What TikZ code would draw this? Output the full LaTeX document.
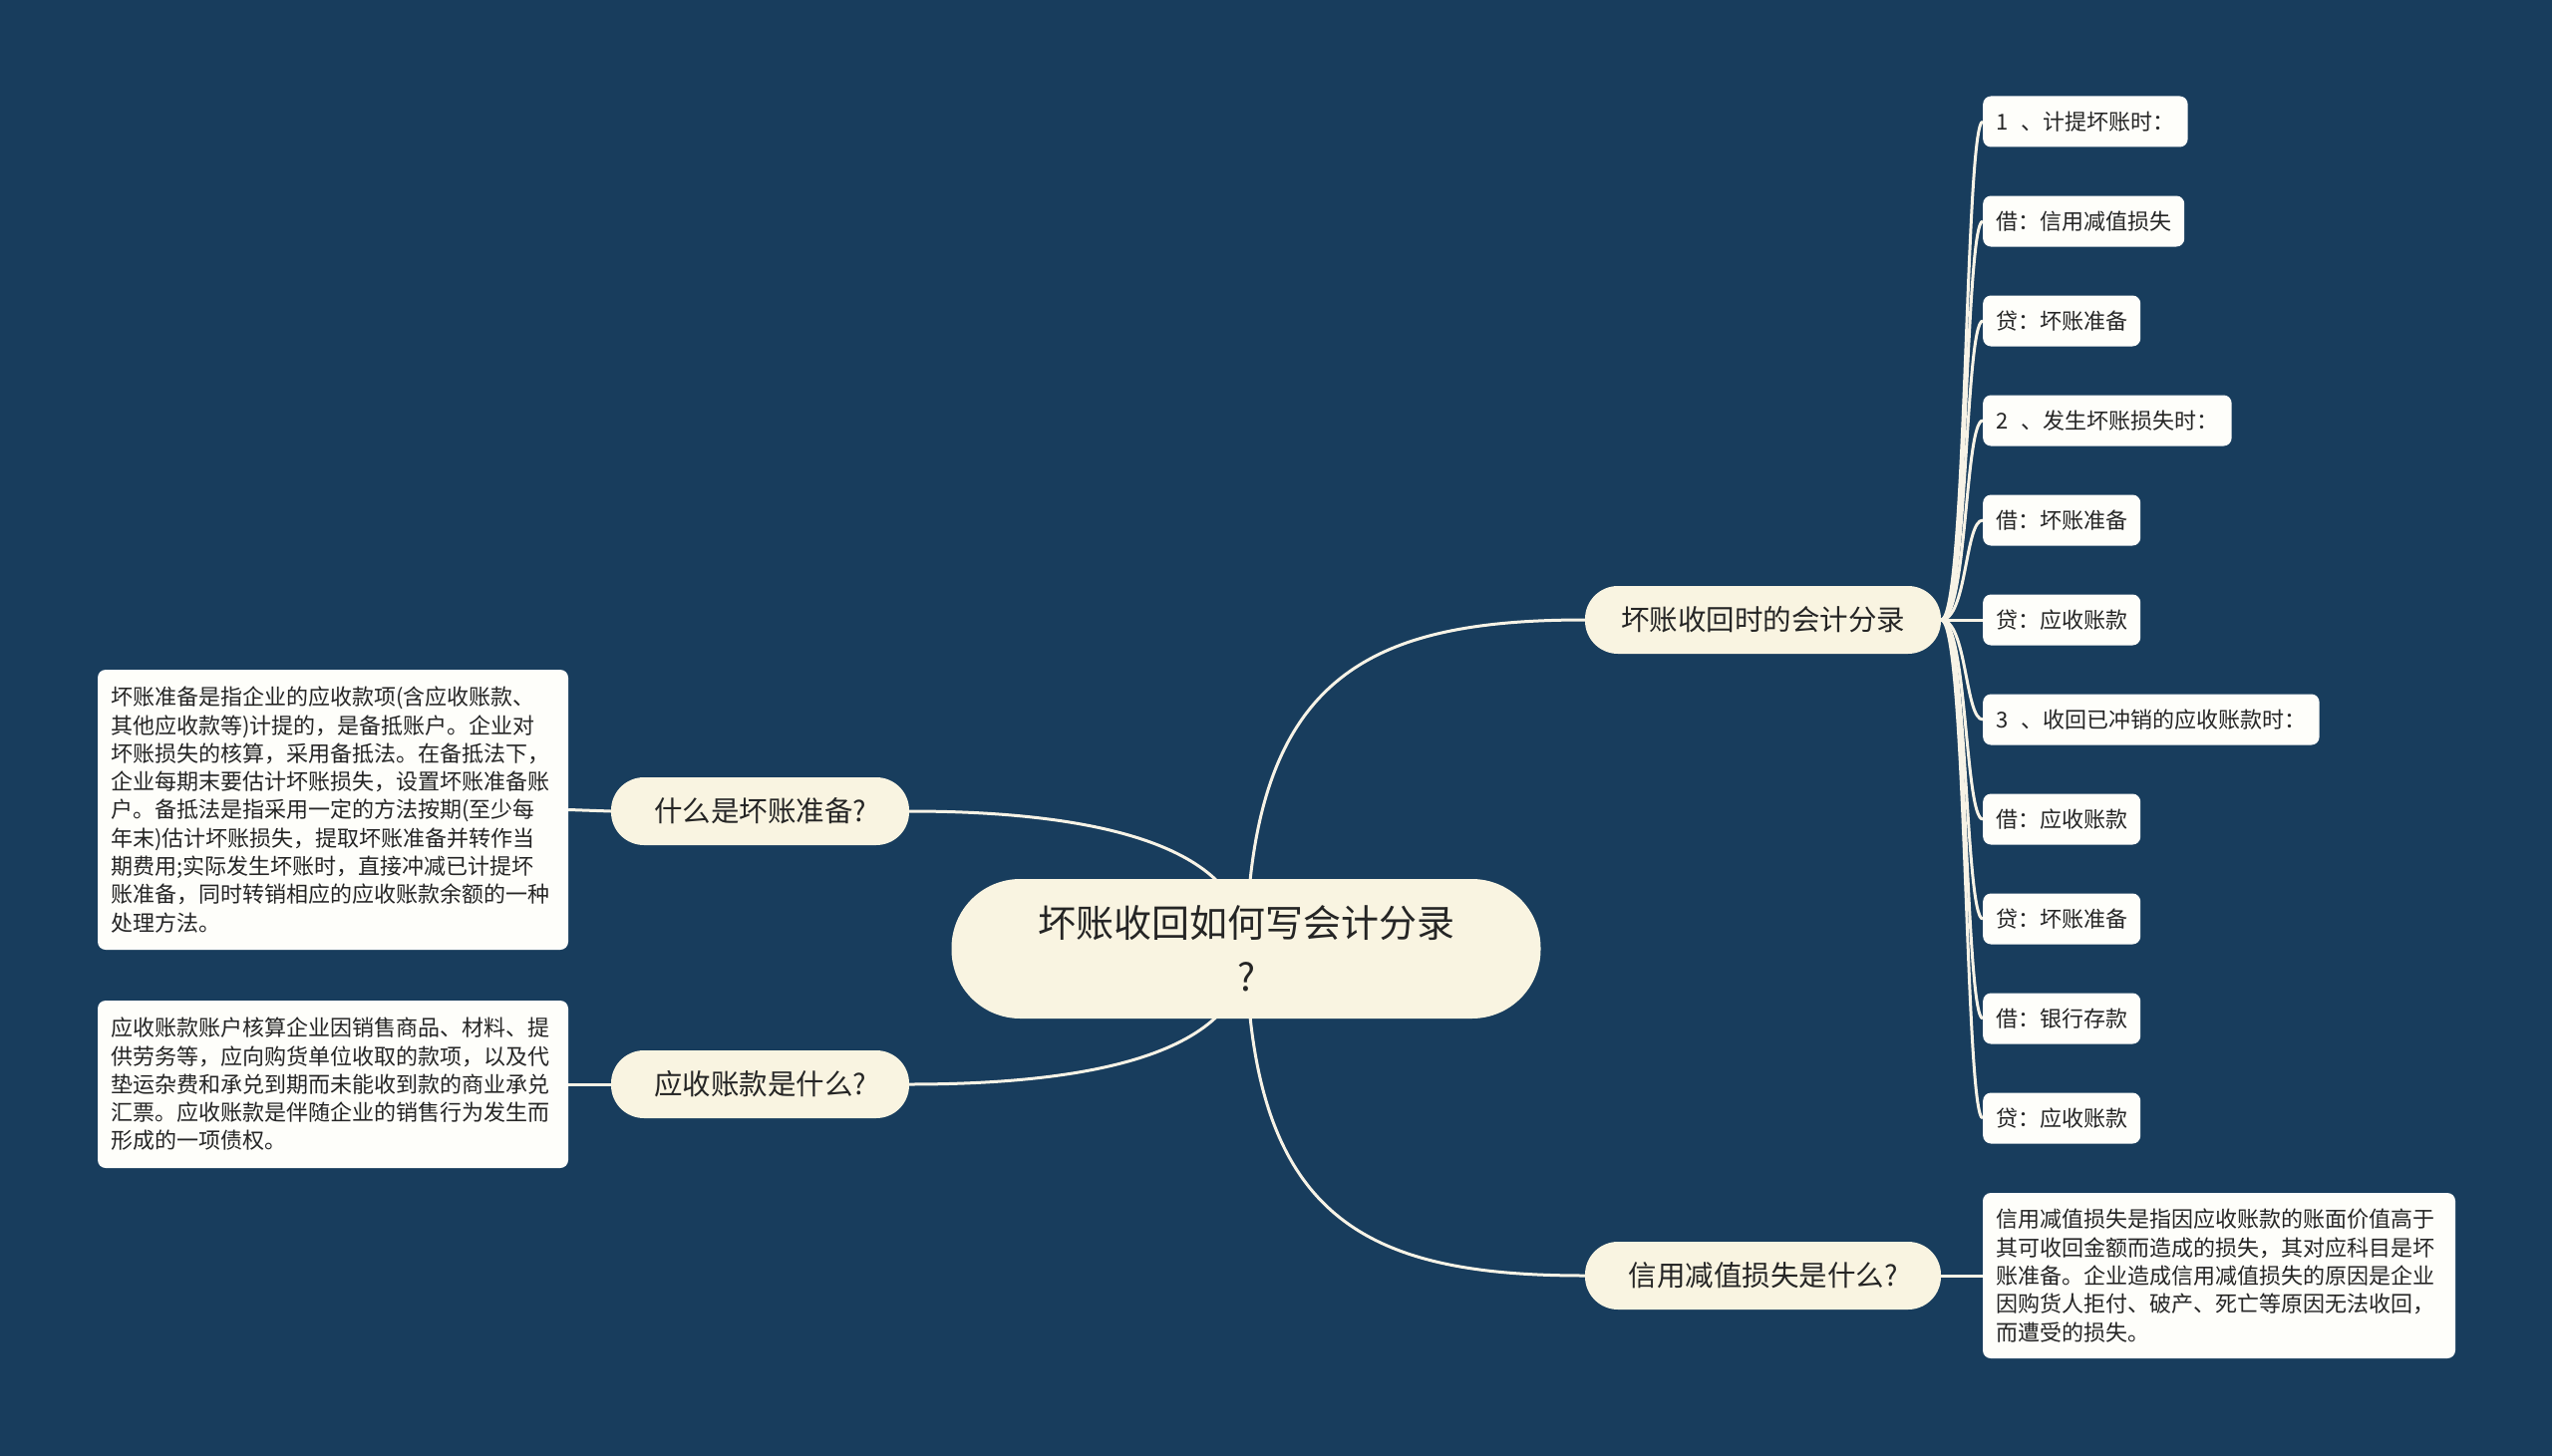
\documentclass[tikz,border=0pt]{standalone}
\usepackage{fontspec}
\newfontfamily\cjk{Noto Sans CJK SC}
\usetikzlibrary{backgrounds}
\definecolor{bgcol}{HTML}{183D5D}
\definecolor{creamcol}{HTML}{F9F4E1}
\definecolor{leafcol}{HTML}{FEFEFA}
\definecolor{inkcol}{HTML}{252525}
\definecolor{wirecol}{HTML}{F7F3E6}
\begin{document}
\begin{tikzpicture}[x=1pt,y=-1pt,
  rootnode/.style={fill=creamcol, rounded corners=69pt, minimum width=591pt, minimum height=140pt,
    align=center, font=\cjk\fontsize{38}{54}\selectfont, text=inkcol, inner sep=0pt},
  topic/.style={fill=creamcol, rounded corners=33pt, minimum height=68pt,
    font=\cjk\fontsize{28.5}{34}\selectfont, text=inkcol, inner sep=0pt},
  leaf/.style={fill=leafcol, rounded corners=8pt, minimum height=51pt, inner xsep=13pt, inner ysep=0pt,
    anchor=west, font=\cjk\fontsize{22}{26}\selectfont, text=inkcol},
  note/.style={fill=leafcol, rounded corners=8pt, inner xsep=13pt, inner ysep=0pt, align=left,
    font=\cjk\fontsize{22}{28.3}\selectfont, text=inkcol},
  wire/.style={draw=wirecol, line width=3pt}
]
\useasboundingbox (0,0) rectangle (2560,1461);

% root
\node[rootnode] (root) at (1250,952) {坏账收回如何写会计分录\\?};

% main topics
\node[topic, minimum width=357pt] (A) at (1768.5,622) {坏账收回时的会计分录};
\node[topic, minimum width=357pt] (B) at (1768.5,1280) {信用减值损失是什么?};
\node[topic, minimum width=299pt] (C) at (762.5,814) {什么是坏账准备?};
\node[topic, minimum width=299pt] (D) at (762.5,1088) {应收账款是什么?};

% leaves
\node[leaf] (l1) at (1989,122) {1\hspace{0.6em}、计提坏账时：};
\node[leaf] (l2) at (1989,222) {借：信用减值损失};
\node[leaf] (l3) at (1989,322) {贷：坏账准备};
\node[leaf] (l4) at (1989,422) {2\hspace{0.6em}、发生坏账损失时：};
\node[leaf] (l5) at (1989,522) {借：坏账准备};
\node[leaf] (l6) at (1989,622) {贷：应收账款};
\node[leaf] (l7) at (1989,722) {3\hspace{0.6em}、收回已冲销的应收账款时：};
\node[leaf] (l8) at (1989,822) {借：应收账款};
\node[leaf] (l9) at (1989,922) {贷：坏账准备};
\node[leaf] (l10) at (1989,1022) {借：银行存款};
\node[leaf] (l11) at (1989,1122) {贷：应收账款};

% notes
\node[note, text width=446pt, minimum height=281pt] (n1) at (334,812.5) {坏账准备是指企业的应收款项(含应收账款、\\
其他应收款等)计提的，是备抵账户。企业对\\
坏账损失的核算，采用备抵法。在备抵法下，\\
企业每期末要估计坏账损失，设置坏账准备账\\
户。备抵法是指采用一定的方法按期(至少每\\
年末)估计坏账损失，提取坏账准备并转作当\\
期费用;实际发生坏账时，直接冲减已计提坏\\
账准备，同时转销相应的应收账款余额的一种\\
处理方法。};
\node[note, text width=446pt, minimum height=168pt] (n2) at (334,1088) {应收账款账户核算企业因销售商品、材料、提\\
供劳务等，应向购货单位收取的款项，以及代\\
垫运杂费和承兑到期而未能收到款的商业承兑\\
汇票。应收账款是伴随企业的销售行为发生而\\
形成的一项债权。};
\node[note, text width=448pt, minimum height=166pt] (n3) at (2226,1280) {信用减值损失是指因应收账款的账面价值高于\\
其可收回金额而造成的损失，其对应科目是坏\\
账准备。企业造成信用减值损失的原因是企业\\
因购货人拒付、破产、死亡等原因无法收回，\\
而遭受的损失。};

\begin{pgfonlayer}{background}
  \fill[bgcol] (0,0) rectangle (2560,1461);
  % root to topics
  \draw[wire] (root.center) .. controls (1255,680) and (1370,622) .. (A.west);
  \draw[wire] (root.center) .. controls (1255,1224) and (1370,1280) .. (B.west);
  \draw[wire] (root.center) .. controls (1250,845) and (1090,814) .. (C.east);
  \draw[wire] (root.center) .. controls (1250,1059) and (1090,1088) .. (D.east);
  % topics to notes
  \draw[wire] (C.west) -- (n1.east);
  \draw[wire] (D.west) -- (n2.east);
  \draw[wire] (B.east) -- (n3.west);
  % topic A to leaves
  \foreach \k in {1,...,11}{
    \draw[wire] (A.east) .. controls +(26,0) and +(-18,0) .. (l\k.west);
  }
\end{pgfonlayer}
\end{tikzpicture}
\end{document}
